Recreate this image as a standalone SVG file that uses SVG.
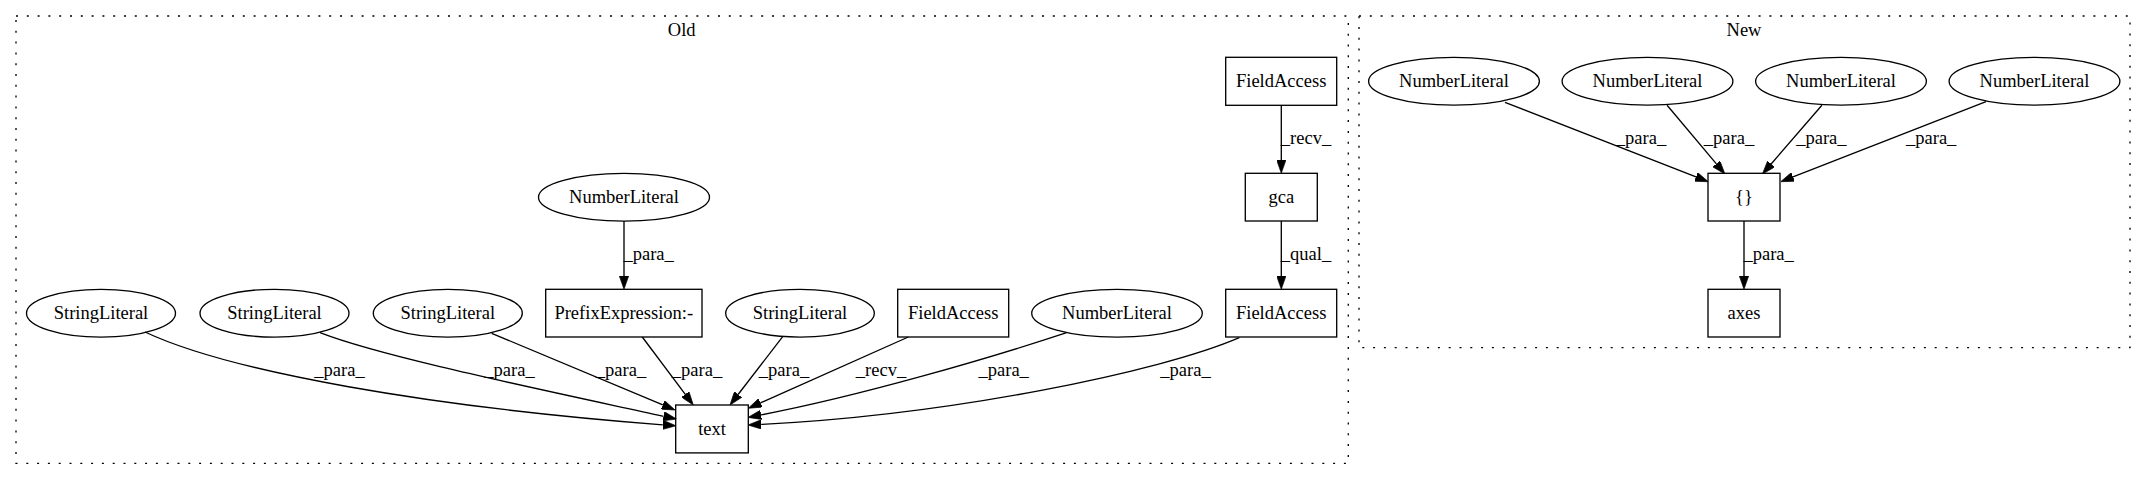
<svg xmlns="http://www.w3.org/2000/svg" width="2147" height="480" viewBox="0 0 2147 480">
<style>
text{font-family:'Liberation Serif','DejaVu Serif','Times New Roman',Times,serif;font-size:18.5px;fill:#000;text-anchor:middle}
.n{fill:none;stroke:#000;stroke-width:1.33}
.e{fill:none;stroke:#000;stroke-width:1.33}
.c{fill:none;stroke:#000;stroke-width:1.33;stroke-dasharray:2,8.8}
</style>
<defs>
<marker id="a" viewBox="0 0 10 7" refX="0" refY="3.5" markerUnits="userSpaceOnUse" markerWidth="13.25" markerHeight="9.3" orient="auto">
<polygon points="0,0 10,3.5 0,7" fill="#000" stroke="#000" stroke-width="0.5"/>
</marker>
</defs>
<rect width="2147" height="480" fill="#fff"/>
<g font-family="Liberation Serif, serif">
<g id="cluster_old">
<rect class="c" x="16" y="16" width="1332.3" height="447.3"/>
<text x="681.7" y="36">Old</text>
</g>
<g id="cluster_new">
<rect class="c" x="1359" y="16" width="771" height="331.7"/>
<text x="1744" y="36">New</text>
</g>
<g id="edges">
<path class="e" marker-end="url(#a)" d="M145,332 C230,372 430,407 662.8,424.8"/>
<text x="339.5" y="376">_para_</text>
<path class="e" marker-end="url(#a)" d="M320,332.7 C380,356 520,385 663.6,416.3"/>
<text x="509.5" y="376">_para_</text>
<path class="e" marker-end="url(#a)" d="M491.7,333.3 L662.8,404.9"/>
<text x="621" y="376">_para_</text>
<path class="e" marker-end="url(#a)" d="M624,221 L624,276"/>
<text x="648.6" y="260">_para_</text>
<path class="e" marker-end="url(#a)" d="M642.3,337 L685.3,394.4"/>
<text x="697" y="376">_para_</text>
<path class="e" marker-end="url(#a)" d="M782.7,336.7 L738.1,394.5"/>
<text x="784" y="376">_para_</text>
<path class="e" marker-end="url(#a)" d="M908.3,337 L760.4,402.9"/>
<text x="881" y="376">_recv_</text>
<path class="e" marker-end="url(#a)" d="M1066.7,332.7 C990,358 860,396 761,414.9"/>
<text x="1003.7" y="376">_para_</text>
<path class="e" marker-end="url(#a)" d="M1239.3,337.7 C1160,372 950,415 761.2,424.4"/>
<text x="1185.5" y="376">_para_</text>
<path class="e" marker-end="url(#a)" d="M1281.3,105.3 L1281.3,160"/>
<text x="1306" y="144">_recv_</text>
<path class="e" marker-end="url(#a)" d="M1281.3,221 L1281.3,276"/>
<text x="1306" y="260">_qual_</text>
<path class="e" marker-end="url(#a)" d="M1505,102.3 L1696,176.9"/>
<text x="1641" y="144">_para_</text>
<path class="e" marker-end="url(#a)" d="M1667.1,105.3 L1716.4,163.9"/>
<text x="1729" y="144">_para_</text>
<path class="e" marker-end="url(#a)" d="M1821.9,105.3 L1771.1,164"/>
<text x="1821.4" y="144">_para_</text>
<path class="e" marker-end="url(#a)" d="M1986,101.7 L1793,176.9"/>
<text x="1931.2" y="144">_para_</text>
<path class="e" marker-end="url(#a)" d="M1744,221 L1744,276"/>
<text x="1768.6" y="260">_para_</text>
</g>
<g id="sl1"><ellipse class="n" cx="101" cy="313.2" rx="74.5" ry="23.9"/><text x="101" y="319">StringLiteral</text></g>
<g id="sl2"><ellipse class="n" cx="274.5" cy="313.2" rx="74.5" ry="23.9"/><text x="274.5" y="319">StringLiteral</text></g>
<g id="sl3"><ellipse class="n" cx="447.8" cy="313.2" rx="74.5" ry="23.9"/><text x="447.8" y="319">StringLiteral</text></g>
<g id="nl_old1"><ellipse class="n" cx="624" cy="197.3" rx="85.5" ry="23.9"/><text x="624" y="203">NumberLiteral</text></g>
<g id="prefix"><rect class="n" x="545.7" y="289.3" width="156.3" height="47.7"/><text x="623.8" y="319">PrefixExpression:-</text></g>
<g id="sl4"><ellipse class="n" cx="800" cy="313.2" rx="74.3" ry="23.9"/><text x="800" y="319">StringLiteral</text></g>
<g id="fa_recv"><rect class="n" x="897.7" y="289.3" width="111" height="47.7"/><text x="953.2" y="319">FieldAccess</text></g>
<g id="nl_old2"><ellipse class="n" cx="1117" cy="313.2" rx="85.3" ry="23.9"/><text x="1117" y="319">NumberLiteral</text></g>
<g id="fa_top"><rect class="n" x="1225.7" y="57.3" width="111" height="48"/><text x="1281.2" y="87.3">FieldAccess</text></g>
<g id="gca"><rect class="n" x="1245.3" y="173.3" width="72" height="47.7"/><text x="1281.3" y="203">gca</text></g>
<g id="fa_bottom"><rect class="n" x="1225.7" y="289.3" width="111" height="47.7"/><text x="1281.2" y="319">FieldAccess</text></g>
<g id="text_node"><rect class="n" x="675.7" y="405" width="72.6" height="47.9"/><text x="712" y="435">text</text></g>
<g id="nl_new1"><ellipse class="n" cx="1454" cy="81.3" rx="85.4" ry="23.9"/><text x="1454" y="87.3">NumberLiteral</text></g>
<g id="nl_new2"><ellipse class="n" cx="1647.5" cy="81.3" rx="85.4" ry="23.9"/><text x="1647.5" y="87.3">NumberLiteral</text></g>
<g id="nl_new3"><ellipse class="n" cx="1841" cy="81.3" rx="85.4" ry="23.9"/><text x="1841" y="87.3">NumberLiteral</text></g>
<g id="nl_new4"><ellipse class="n" cx="2034.5" cy="81.3" rx="85.4" ry="23.9"/><text x="2034.5" y="87.3">NumberLiteral</text></g>
<g id="braces"><rect class="n" x="1708" y="173.3" width="72" height="47.7"/><text x="1744" y="203">{}</text></g>
<g id="axes"><rect class="n" x="1708" y="289.3" width="72" height="47.7"/><text x="1744" y="319">axes</text></g>
</g>
</svg>
